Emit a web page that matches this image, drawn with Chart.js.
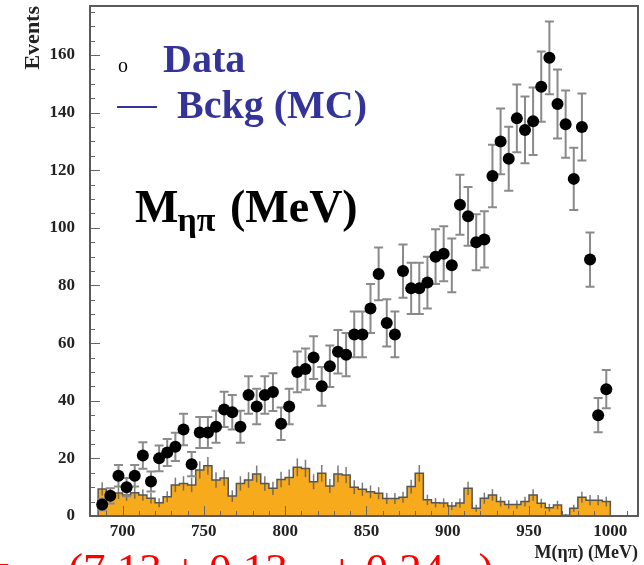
<!DOCTYPE html>
<html><head><meta charset="utf-8">
<script src="https://cdn.jsdelivr.net/npm/chart.js@4/dist/chart.umd.min.js"></script>
<style>html,body{margin:0;padding:0;background:#fff;overflow:hidden}#wrap{width:644px;height:565px}</style>
</head><body><div id="wrap"><canvas id="c" width="644" height="565"></canvas></div>
<script>
// ---- data ----
const massCenters = [687.5,692.5,697.5,702.5,707.5,712.5,717.5,722.5,727.5,732.5,737.5,742.5,747.5,752.5,757.5,762.5,767.5,772.5,777.5,782.5,787.5,792.5,797.5,802.5,807.5,812.5,817.5,822.5,827.5,832.5,837.5,842.5,847.5,852.5,857.5,862.5,867.5,872.5,877.5,882.5,887.5,892.5,897.5,902.5,907.5,912.5,917.5,922.5,927.5,932.5,937.5,942.5,947.5,952.5,957.5,962.5,967.5,972.5,977.5,982.5,987.5,992.5,997.5];
const binWidth = 5;
const dataCounts = [4,7,14,10,14,21,12,20,22,24,30,18,29,29,31,37,36,31,42,38,42,43,32,38,50,51,55,45,52,57,56,63,63,72,84,67,63,85,79,79,81,90,91,87,108,104,95,96,118,130,124,138,134,137,149,159,143,136,117,135,89,35,44];
const bckgCounts = [9.4,7.3,8,7.3,8.1,7.3,6.2,4.6,6.7,10.8,11.3,10.8,16,17.4,12.5,13.2,6.9,11.3,12.5,14.6,11.3,9.6,12.7,13.4,16.9,16.5,11.9,14.8,10.4,14.6,14.2,10,9.3,8.4,7.9,6.1,6.1,6.5,10.2,14.8,5.6,4.6,4.5,3.5,4.5,9.6,2.7,6.2,7.3,5,4,4,5,7.3,4.4,2.9,3.8,0.3,2.7,6.5,5.5,5.5,5];
const bckgErrors = [2.3,2.0,2.1,2.0,2.1,2.0,1.9,1.6,1.9,2.5,2.5,2.5,3.0,3.1,2.7,2.7,2.0,2.5,2.7,2.9,2.5,2.3,2.7,2.7,3.1,3.0,2.6,2.9,2.4,2.9,2.8,2.4,2.3,2.2,2.1,1.9,1.9,1.9,2.4,2.9,1.8,1.6,1.6,1.4,1.6,2.3,1.2,1.9,2.0,1.7,1.5,1.5,1.7,2.0,1.6,1.3,1.5,0.4,1.2,1.9,1.8,1.8,1.7];
const xTickLabels = [700,750,800,850,900,950,1000];
const yTickLabels = [0,20,40,60,80,100,120,140,160];
const xRange = [680, 1017];
const yRange = [0, 177];

// ---- build library tables ----
const dataPoints = massCenters.map((m,i)=>({x:m, y:dataCounts[i]}));
const bgPoints = [];
massCenters.forEach((m,i)=>{
  const lo = m - binWidth/2;
  bgPoints.push({x:lo, y: i===0 ? 0 : bckgCounts[i-1]});
  bgPoints.push({x:lo, y: bckgCounts[i]});
});
const lastHi = massCenters[massCenters.length-1] + binWidth/2;
bgPoints.push({x:lastHi, y:bckgCounts[bckgCounts.length-1]});
bgPoints.push({x:lastHi, y:0});

const SERIF = '"Liberation Serif", "Times New Roman", serif';
const BLUE = '#333399';

function errBar(ctx, xs, ys, x, lo, hi, cap){
  const px = xs.getPixelForValue(x);
  const p1 = ys.getPixelForValue(lo), p2 = ys.getPixelForValue(hi);
  ctx.beginPath();
  ctx.moveTo(px,p1); ctx.lineTo(px,p2);
  if(cap){ ctx.moveTo(px-cap,p1); ctx.lineTo(px+cap,p1); ctx.moveTo(px-cap,p2); ctx.lineTo(px+cap,p2); }
  ctx.stroke();
}

const overlay = {
  id:'overlay',
  afterDatasetDraw(chart, args){
    if(args.index !== 1) return;
    const {ctx, chartArea:a, scales:{x:xs, y:ys}} = chart;
    ctx.save();
    ctx.beginPath(); ctx.rect(a.left,a.top,a.right-a.left,a.bottom-a.top); ctx.clip();
    ctx.strokeStyle = 'rgba(90,90,90,0.8)'; ctx.lineWidth = 1.5;
    massCenters.forEach((m,i)=>errBar(ctx,xs,ys,m,Math.max(0,bckgCounts[i]-bckgErrors[i]),bckgCounts[i]+bckgErrors[i],0));
    ctx.strokeStyle = '#8a8a8a'; ctx.lineWidth = 2;
    massCenters.forEach((m,i)=>{const e=Math.sqrt(dataCounts[i]); errBar(ctx,xs,ys,m,dataCounts[i]-e,dataCounts[i]+e,4.5);});
    ctx.restore();
  },
  afterDraw(chart){
    const {ctx, chartArea:a, scales:{x:xs, y:ys}} = chart;
    ctx.save();
    ctx.strokeStyle = '#666'; ctx.lineWidth = 1;
    ctx.beginPath();
    for(let v=yRange[0]; v<=yRange[1]; v+=5){
      const py = Math.round(ys.getPixelForValue(v))+0.5;
      const len = (v%20===0)?10:5;
      ctx.moveTo(a.left,py); ctx.lineTo(a.left+len,py);
    }
    for(let v=690; v<=xRange[1]; v+=10){
      const px = Math.round(xs.getPixelForValue(v))+0.5;
      const len = (v%50===0)?10:5;
      ctx.moveTo(px,a.bottom); ctx.lineTo(px,a.bottom-len);
    }
    ctx.stroke();
    ctx.strokeStyle = '#5a5a5a'; ctx.lineWidth = 2;
    ctx.strokeRect(a.left, a.top, a.right-a.left, a.bottom-a.top);

    ctx.textBaseline = 'alphabetic'; ctx.textAlign = 'left';
    ctx.fillStyle = '#000';
    ctx.font = '20px ' + SERIF;
    ctx.fillText('o', 118, 72);
    ctx.fillStyle = BLUE;
    ctx.font = 'bold 40px ' + SERIF;
    ctx.fillText('Data', 163, 72);
    ctx.strokeStyle = BLUE; ctx.lineWidth = 2;
    ctx.beginPath(); ctx.moveTo(117,107); ctx.lineTo(157,107); ctx.stroke();
    ctx.fillText('Bckg (MC)', 177, 118);

    ctx.fillStyle = '#000';
    ctx.font = 'bold 46px ' + SERIF;
    ctx.fillText('M', 135, 222);
    let x = 135 + ctx.measureText('M').width;
    ctx.font = 'bold 34px ' + SERIF;
    ctx.fillText('ηπ', x - 1, 231);
    ctx.font = 'bold 46px ' + SERIF;
    ctx.fillText('(MeV)', 230, 222);

    ctx.fillStyle = '#f00';
    const big = '45px ' + SERIF, small = '22px ' + SERIF;
    ctx.font = big; ctx.fillText('=', -15, 584);
    const parts = [['(7.13 ± 0.13', big, 584], ['stat', small, 593], [' ± 0.24', big, 584], ['syst', small, 593], [')', big, 584]];
    x = 68;
    parts.forEach(([t,f,b])=>{ ctx.font=f; ctx.fillText(t,x,b); x += ctx.measureText(t).width; });
    ctx.restore();
  }
};

new Chart(document.getElementById('c'), {
  data:{
    datasets:[
      { type:'scatter', label:'Data', data:dataPoints, order:0,
        backgroundColor:'#000', borderColor:'#000', pointRadius:6, pointHoverRadius:6, pointBorderWidth:0 },
      { type:'line', label:'Bckg (MC)', data:bgPoints, order:1,
        borderColor:'#555', borderWidth:1.5, backgroundColor:'#F6AA1C', fill:'origin',
        pointRadius:0, tension:0 }
    ]
  },
  options:{
    responsive:false, animation:false, devicePixelRatio:1,
    layout:{padding:{left:0,right:4,top:6,bottom:0}},
    plugins:{legend:{display:false}, tooltip:{enabled:false}},
    scales:{
      x:{ type:'linear', min:xRange[0], max:xRange[1],
        afterBuildTicks:s=>{ s.ticks = xTickLabels.map(v=>({value:v})); },
        afterFit:s=>{ s.height = 49; s.paddingLeft = 0; s.paddingRight = 0; },
        grid:{display:false}, border:{display:false},
        ticks:{ padding:-3, maxRotation:0, autoSkip:false, color:'#222',
          font:{family:SERIF, weight:'bold', size:17}, callback:v=>String(v) },
        title:{ display:true, text:'M(ηπ) (MeV)', align:'end', color:'#222',
          font:{family:SERIF, weight:'bold', size:18}, padding:{top:0,bottom:1} }
      },
      y:{ type:'linear', min:yRange[0], max:yRange[1],
        afterBuildTicks:s=>{ s.ticks = yTickLabels.map(v=>({value:v})); },
        afterFit:s=>{ s.width = 90; s.paddingTop = 0; s.paddingBottom = 0; },
        grid:{display:false}, border:{display:false},
        ticks:{ padding:7, color:'#222', font:{family:SERIF, weight:'bold', size:17}, callback:v=>String(v) },
        title:{ display:true, text:'Events', align:'end', color:'#222',
          font:{family:SERIF, weight:'bold', size:22}, padding:{top:20,bottom:0} }
      }
    }
  },
  plugins:[overlay]
});
</script></body></html>
